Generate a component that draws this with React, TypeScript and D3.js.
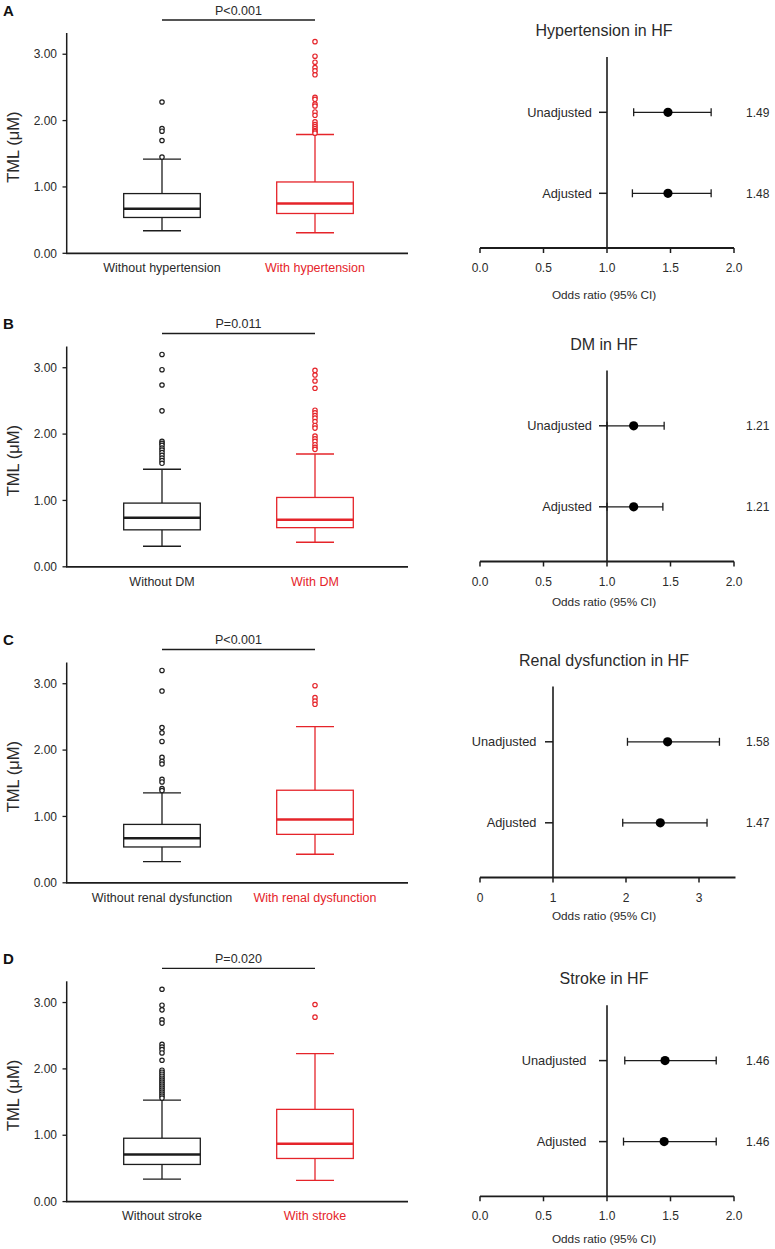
import React from "react";
import * as d3 from "d3";

// ---------- data ----------
const panelIds = ["A", "B", "C", "D"];
const groupNames = [
  ["Without hypertension", "With hypertension"],
  ["Without DM", "With DM"],
  ["Without renal dysfunction", "With renal dysfunction"],
  ["Without stroke", "With stroke"],
];
const pLabels = ["P<0.001", "P=0.011", "P<0.001", "P=0.020"];
const yTicks = [0, 1, 2, 3];

// [whiskerLow, q1, median, q3, whiskerHigh]
const boxStatsA = [[0.34, 0.54, 0.67, 0.9, 1.42], [0.31, 0.6, 0.75, 1.075, 1.79]];
const boxStatsB = [[0.31, 0.557, 0.74, 0.96, 1.47], [0.37, 0.59, 0.71, 1.045, 1.7]];
const boxStatsC = [[0.32, 0.54, 0.67, 0.88, 1.355], [0.43, 0.73, 0.955, 1.395, 2.355]];
const boxStatsD = [[0.34, 0.56, 0.71, 0.955, 1.53], [0.32, 0.65, 0.87, 1.39, 2.23]];

const outliersA = [
  [2.28, 1.88, 1.84, 1.7, 1.45],
  [3.19, 2.97, 2.88, 2.8, 2.75, 2.69, 2.35, 2.32, 2.25, 2.22, 2.13, 2.08, 1.98, 1.94, 1.91, 1.88, 1.85, 1.83, 1.81],
];
const outliersB = [
  [3.2, 2.97, 2.74, 2.35, 1.89, 1.86, 1.83, 1.79, 1.76, 1.72, 1.68, 1.64, 1.6, 1.56],
  [2.96, 2.89, 2.8, 2.69, 2.36, 2.32, 2.28, 2.24, 2.19, 2.13, 2.09, 1.97, 1.93, 1.89, 1.84, 1.8, 1.77],
];
const outliersC = [
  [3.2, 2.89, 2.34, 2.26, 2.13, 1.89, 1.83, 1.79, 1.56, 1.52, 1.42, 1.39],
  [2.97, 2.79, 2.74, 2.69],
];
const outliersD = [
  [3.2, 2.96, 2.89, 2.74, 2.69, 2.37, 2.33, 2.29, 2.24, 2.13, 1.98, 1.95, 1.92, 1.89, 1.86, 1.83, 1.8, 1.77, 1.74, 1.71, 1.68, 1.65, 1.62, 1.59, 1.56],
  [2.97, 2.78],
];

const forestTitles = ["Hypertension in HF", "DM in HF", "Renal dysfunction in HF", "Stroke in HF"];
const forestRows = ["Unadjusted", "Adjusted"];
// [OR, lower, upper]
const orA = [[1.48, 1.21, 1.82], [1.48, 1.2, 1.82]];
const orB = [[1.21, 1.0, 1.45], [1.21, 1.0, 1.44]];
const orC = [[2.57, 2.02, 3.28], [2.47, 1.955, 3.11]];
const orD = [[1.457, 1.14, 1.86], [1.45, 1.13, 1.86]];
const orTextA = ["1.49", "1.48"];
const orTextB = ["1.21", "1.21"];
const orTextC = ["1.58", "1.47"];
const orTextD = ["1.46", "1.46"];
const forestDomainMax = [2, 2, 3.5, 2];
const forestTicksSmall = [0, 0.5, 1, 1.5, 2];
const forestTicksWide = [0, 1, 2, 3];

// ---------- layout ----------
const panelTop = [0, 313.5, 629.5, 948.3];
const axisLabelY = [294.5, 288.5, 286.3, 290.4];
const rowLabelGap = [7, 7, 8.5, 12.5];
const FONT = "'Liberation Sans', Arial, Helvetica, sans-serif";
const BLACK = "#1c1c1c";
const RED = "#e5242a";
const TEXT = "#2a2a2a";

const boxStats = [boxStatsA, boxStatsB, boxStatsC, boxStatsD];
const outliers = [outliersA, outliersB, outliersC, outliersD];
const ors = [orA, orB, orC, orD];
const orTexts = [orTextA, orTextB, orTextC, orTextD];

function BoxPanel({ i }: { i: number }) {
  const y = d3.scaleLinear().domain([0, 3.32]).range([253.3, 33]);
  const x = d3.scalePoint<number>().domain([0, 1]).range([162, 315]);
  const halfW = 38.3;
  const capW = 19;
  const colors = [BLACK, RED];
  return (
    <g transform={`translate(0,${panelTop[i]})`} fontFamily={FONT}>
      <text x={3} y={15.5} fontSize={15} fontWeight="bold" fill="#111">
        {panelIds[i]}
      </text>
      <text x={(x(0)! + x(1)!) / 2} y={14.5} fontSize={12.5} textAnchor="middle" fill={TEXT}>
        {pLabels[i]}
      </text>
      <line x1={x(0)} x2={x(1)} y1={20} y2={20} stroke={BLACK} strokeWidth={1.3} />
      {/* y axis */}
      <line x1={66.7} x2={66.7} y1={y.range()[1]} y2={y(0)} stroke={BLACK} strokeWidth={1.5} />
      <line x1={66} x2={408} y1={y(0)} y2={y(0)} stroke={BLACK} strokeWidth={1.8} />
      {yTicks.map((t) => (
        <g key={t}>
          <line x1={62.5} x2={66.7} y1={y(t)} y2={y(t)} stroke={BLACK} strokeWidth={1.3} />
          <text x={57} y={y(t)} dy="0.35em" fontSize={12} textAnchor="end" fill={TEXT}>
            {d3.format(".2f")(t)}
          </text>
        </g>
      ))}
      <text
        transform={`translate(19,${y(1.6)}) rotate(-90)`}
        fontSize={16.5}
        textAnchor="middle"
        fill={TEXT}
      >
        TML (μM)
      </text>
      {boxStats[i].map((s, g) => {
        const cx = x(g)!;
        const c = colors[g];
        const [lo, q1, med, q3, hi] = s;
        return (
          <g key={g} stroke={c} fill="none">
            <line x1={cx} x2={cx} y1={y(q3)} y2={y(hi)} strokeWidth={1.3} />
            <line x1={cx} x2={cx} y1={y(q1)} y2={y(lo)} strokeWidth={1.3} />
            <line x1={cx - capW} x2={cx + capW} y1={y(hi)} y2={y(hi)} strokeWidth={1.3} />
            <line x1={cx - capW} x2={cx + capW} y1={y(lo)} y2={y(lo)} strokeWidth={1.3} />
            <rect x={cx - halfW} y={y(q3)} width={halfW * 2} height={y(q1) - y(q3)} fill="#fff" strokeWidth={1.3} />
            <line x1={cx - halfW} x2={cx + halfW} y1={y(med)} y2={y(med)} strokeWidth={2.5} />
            {outliers[i][g].map((v, k) => (
              <circle key={k} cx={cx} cy={y(v)} r={2.2} fill="#fff" strokeWidth={1.2} />
            ))}
          </g>
        );
      })}
      {groupNames[i].map((n, g) => (
        <text key={g} x={x(g)} y={272} fontSize={12.5} textAnchor="middle" fill={g === 0 ? TEXT : RED}>
          {n}
        </text>
      ))}
    </g>
  );
}

function ForestPanel({ i }: { i: number }) {
  const maxX = forestDomainMax[i];
  const x = d3.scaleLinear().domain([0, maxX]).range([480, maxX > 2 ? 735.5 : 734]);
  const ticks = maxX > 2 ? forestTicksWide : forestTicksSmall;
  const fmt = maxX > 2 ? d3.format("d") : d3.format(".1f");
  const y = d3.scalePoint<string>().domain(forestRows).range([112.3, 193.3]);
  const axisY = 248;
  const x1 = x(1);
  return (
    <g transform={`translate(0,${panelTop[i]})`} fontFamily={FONT}>
      <text x={604} y={36} fontSize={16} textAnchor="middle" fill={TEXT}>
        {forestTitles[i]}
      </text>
      <line x1={x1} x2={x1} y1={57} y2={axisY} stroke={BLACK} strokeWidth={1.6} />
      <line x1={x.range()[0]} x2={x.range()[1]} y1={axisY} y2={axisY} stroke={BLACK} strokeWidth={1.8} />
      {ticks.map((t) => (
        <g key={t}>
          <line x1={x(t)} x2={x(t)} y1={axisY} y2={axisY + 5} stroke={BLACK} strokeWidth={1.5} />
          <text x={x(t)} y={272} fontSize={12} textAnchor="middle" fill={TEXT}>
            {fmt(t)}
          </text>
        </g>
      ))}
      <text x={604} y={axisLabelY[i]} dy="0.35em" fontSize={11.8} textAnchor="middle" fill={TEXT}>
        Odds ratio (95% CI)
      </text>
      {forestRows.map((r, k) => {
        const yy = y(r)!;
        const [or, lo, hi] = ors[i][k];
        return (
          <g key={r}>
            <line x1={x1 - 8} x2={x1} y1={yy} y2={yy} stroke={BLACK} strokeWidth={1.5} />
            <text x={x1 - 8 - rowLabelGap[i]} y={yy} dy="0.35em" fontSize={12.8} textAnchor="end" fill={TEXT}>
              {r}
            </text>
            <line x1={x(lo)} x2={x(hi)} y1={yy} y2={yy} stroke={BLACK} strokeWidth={1.3} />
            <line x1={x(lo)} x2={x(lo)} y1={yy - 4} y2={yy + 4} stroke={BLACK} strokeWidth={1.3} />
            <line x1={x(hi)} x2={x(hi)} y1={yy - 4} y2={yy + 4} stroke={BLACK} strokeWidth={1.3} />
            <circle cx={x(or)} cy={yy} r={4.6} fill="#000" />
            <text x={746} y={yy} dy="0.35em" fontSize={12} fill={TEXT}>
              {orTexts[i][k]}
            </text>
          </g>
        );
      })}
    </g>
  );
}

export default function App() {
  return (
    <svg
      width={775}
      height={1249}
      viewBox="0 0 775 1249"
      style={{ position: "absolute", left: 0, top: 0, background: "#fff" }}
    >
      <rect width={775} height={1249} fill="#fff" />
      {panelIds.map((_, i) => (
        <g key={i}>
          <BoxPanel i={i} />
          <ForestPanel i={i} />
        </g>
      ))}
    </svg>
  );
}
